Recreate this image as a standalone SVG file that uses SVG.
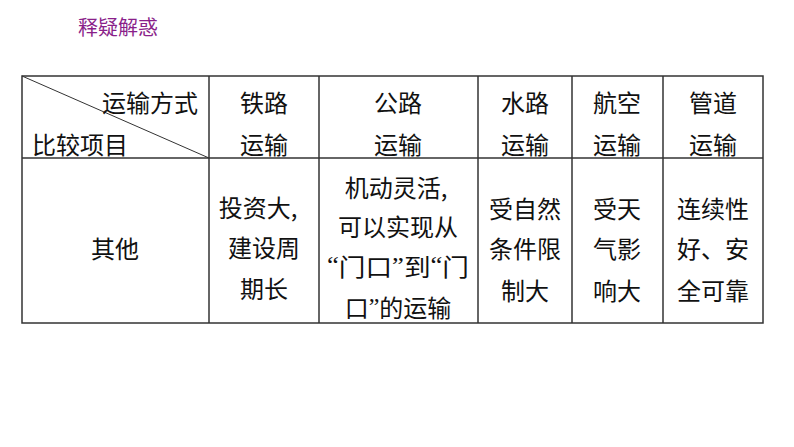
<svg xmlns="http://www.w3.org/2000/svg" width="794" height="447" viewBox="0 0 794 447">
<style>
text{font-family:"Noto Sans CJK SC","Noto Sans",sans-serif;font-size:24px;fill:#111;text-anchor:middle;dominant-baseline:central}
.t{fill:#8a1f8a;font-size:20px;text-anchor:start}
.q{font-family:"Liberation Serif",serif}
.g line,.g rect{stroke:#333;stroke-width:1.5;fill:none}
</style>
<rect width="794" height="447" fill="#fff"/>
<text class="t" x="78" y="26">释疑解惑</text>
<g id="table" class="g">
<rect x="22" y="76" width="741" height="247"/>
<line x1="22" y1="158" x2="763" y2="158"/>
<line x1="209" y1="76" x2="209" y2="323"/>
<line x1="319" y1="76" x2="319" y2="323"/>
<line x1="478" y1="76" x2="478" y2="323"/>
<line x1="572" y1="76" x2="572" y2="323"/>
<line x1="663" y1="76" x2="663" y2="323"/>
<line x1="22" y1="76" x2="209" y2="158" style="stroke-width:1"/>
</g>
<g id="header">
<text x="150" y="101">运输方式</text>
<text x="80" y="143">比较项目</text>
<text x="264" y="101">铁路</text><text x="264" y="143">运输</text>
<text x="398" y="101">公路</text><text x="398" y="143">运输</text>
<text x="525" y="101">水路</text><text x="525" y="143">运输</text>
<text x="617" y="101">航空</text><text x="617" y="143">运输</text>
<text x="713" y="101">管道</text><text x="713" y="143">运输</text>
</g>
<g id="body">
<text x="115" y="247">其他</text>
<text x="258" y="206">投资大,</text>
<text x="264" y="246">建设周</text>
<text x="264" y="287">期长</text>
<text x="396" y="186">机动灵活,</text>
<text x="398" y="225">可以实现从</text>
<text x="398" y="265" textLength="142" lengthAdjust="spacingAndGlyphs"><tspan class="q">“</tspan>门口<tspan class="q">”</tspan>到<tspan class="q">“</tspan>门</text>
<text x="398" y="306">口<tspan class="q">”</tspan>的运输</text>
<text x="525" y="207">受自然</text><text x="525" y="247">条件限</text><text x="525" y="289">制大</text>
<text x="617" y="207">受天</text><text x="617" y="247">气影</text><text x="617" y="289">响大</text>
<text x="713" y="207">连续性</text><text x="713" y="247">好、安</text><text x="713" y="289">全可靠</text>
</g>
</svg>
